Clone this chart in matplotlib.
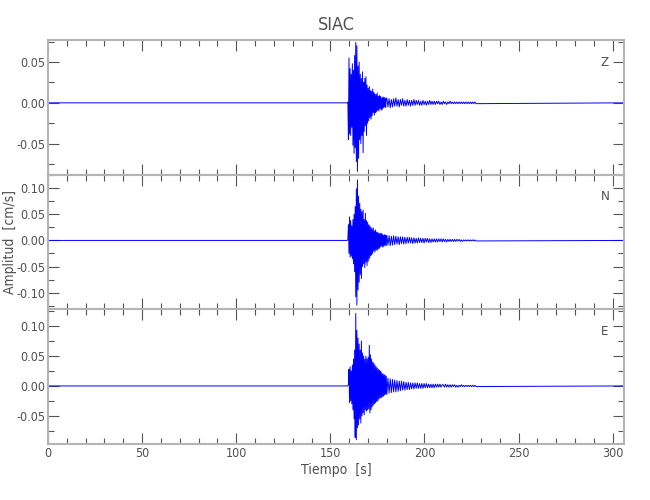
import numpy as np
import matplotlib
matplotlib.use("Agg")
from matplotlib import pyplot as plt
from matplotlib import font_manager
from matplotlib.ticker import MultipleLocator

# narrow font if one is there, else condensed DejaVu
names = {f.name for f in font_manager.fontManager.ttflist}
narrow = [n for n in ['Liberation Sans Narrow', 'DejaVu Sans Condensed']
          if n in names]
plt.rcParams['font.family'] = narrow + ['DejaVu Sans']
plt.rcParams['font.stretch'] = 'condensed'

# station / components
station = 'SIAC'
components = ['Z', 'N', 'E']

# sampling of the event window: blocks of samples (s)
seg_starts = [159.0, 180.0, 210.0]
seg_steps = [0.3, 0.6, 0.6]
seg_sizes = [70, 50, 30]
t_first, t_last = 0.0, 306.0

# amplitudes in 1e-3 cm/s
z_vals = [0, 1, -45, 55, -38, 42, -40, 35, -30, 48,
          -52, 40, -62, 58, -55, 74, -72, 70, -84, 45,
          -68, 50, -45, 35, -50, 30, -40, 38, -61, 25,
          -35, 30, -28, 32, -40, 22, -25, 18, -22, 20,
          -18, 15, -20, 14, -16, 17, -12, 13, -15, 11,
          -12, 10, -11, 12, -9, 8, -10, 9, -7, 8,
          -9, 6, -8, 7, -6, 7, -5, 6, -6, 5,
          6, -5, 5, -6, 4, -5, 5, -4, 6, -4,
          4, -5, 4, -3, 5, -4, 3, -4, 4, -3,
          3, -4, 3, -3, 4, -3, 3, -2, 3, -3,
          2, -3, 3, -2, 2, -3, 2, -2, 3, -2,
          2, -2, 2, -2, 2, -1, 2, -2, 1, -2,
          2, -1, 1, -2, 1, -1, 2, -1, 1, -1,
          1, -1, 1, -1, 1, -1, 1, -1, 1, -1,
          1, -1, 1, -1, 1, -1, 1, -1, 1, -1]

n_vals = [0, 2, 30, -25, 45, -32, 38, -30, 28, -35,
          40, -45, 50, -60, 65, -108, 99, -124, 116, -95,
          85, -80, 71, -65, 60, -73, 55, -50, 58, -45,
          40, -52, 52, -42, 38, -48, 35, -40, 30, -35,
          28, -30, 25, -28, 22, -25, 24, -20, 18, -22,
          20, -18, 16, -19, 15, -16, 14, -15, 13, -12,
          14, -11, 12, -13, 10, -11, 11, -9, 10, -10,
          10, -9, 9, -10, 8, -9, 9, -8, 8, -7,
          7, -8, 7, -6, 7, -7, 6, -6, 6, -5,
          6, -5, 5, -6, 5, -5, 4, -5, 5, -4,
          4, -4, 4, -5, 4, -3, 4, -4, 3, -4,
          3, -3, 3, -3, 3, -3, 3, -2, 3, -3,
          3, -2, 2, -3, 2, -2, 2, -2, 2, -2,
          2, -2, 2, -1, 2, -2, 1, -2, 1, -1,
          1, -1, 1, -1, 1, -1, 1, -1, 1, -1]

e_vals = [0, 1, 2, 28, -28, 32, -25, 25, -30, 35,
          -40, 45, -55, 60, -86, 121, -90, 93, -70, 80,
          -65, 70, -55, 60, -62, 75, -50, 55, -45, 50,
          -48, 45, -40, 50, -42, 45, -40, 48, -38, 68,
          -45, 52, -40, 45, -35, 40, -32, 38, -30, 35,
          -28, 32, -26, 30, -25, 28, -22, 26, -20, 25,
          -20, 22, -18, 20, -17, 19, -15, 18, -14, 16,
          -14, 13, -12, 12, -11, 11, -10, 10, -10, 9,
          -9, 8, -8, 8, -7, 7, -7, 6, -6, 6,
          -6, 5, -5, 5, -5, 5, -4, 5, -4, 4,
          -4, 4, -4, 4, -3, 4, -3, 3, -3, 3,
          -3, 3, -3, 3, -2, 3, -2, 3, -2, 2,
          2, -2, 3, -2, 2, -2, 2, -2, 2, -1,
          2, -2, 1, -2, 1, -1, 2, -1, 1, -1,
          1, -1, 1, -1, 1, -1, 1, -1, 1, -1]

ylims = [(-0.088, 0.077), (-0.132, 0.126), (-0.097, 0.128)]
yticks = [[-0.05, 0.0, 0.05],
          [-0.10, -0.05, 0.0, 0.05, 0.10],
          [-0.05, 0.0, 0.05, 0.10]]

# time axis of the event window
t_event = np.concatenate([s + d * np.arange(n)
                          for s, d, n in zip(seg_starts, seg_steps, seg_sizes)])

spine_col = '#b4b4b4'
tick_col = '#555555'
text_col = '#505050'

fig, axes = plt.subplots(3, 1, figsize=(6.5, 5), dpi=100, sharex=True)
fig.subplots_adjust(left=48/650, right=624/650, top=1-40/500,
                    bottom=1-444/500, hspace=0)

for ax, comp, vals, yl, yt in zip(axes, components,
                                  [z_vals, n_vals, e_vals], ylims, yticks):
    t = np.concatenate([[t_first], t_event, [t_last]])
    y = np.concatenate([[0.0], np.array(vals) / 1000.0, [0.0]])
    ax.plot(t, y, color='#0000ff', lw=0.7)
    ax.set_xlim(t_first, t_last)
    ax.set_ylim(*yl)
    ax.set_yticks(yt)
    ax.yaxis.set_minor_locator(MultipleLocator(0.025))
    ax.xaxis.set_major_locator(MultipleLocator(50))
    ax.xaxis.set_minor_locator(MultipleLocator(10))
    ax.yaxis.set_major_formatter(plt.FormatStrFormatter('%.2f'))
    ax.tick_params(which='both', direction='in', top=True, right=True,
                   color=tick_col, labelcolor=text_col, labelsize=9, pad=2)
    ax.tick_params(which='major', length=8, width=0.8)
    ax.tick_params(which='minor', length=4.5, width=0.8)
    for sp in ax.spines.values():
        sp.set_color(spine_col)
        sp.set_linewidth(1.5)
    ax.text(0.967, 0.836, comp, transform=ax.transAxes, ha='center',
            va='center', fontsize=9.5, color=text_col)

axes[0].set_title(station, fontsize=13, color=text_col, pad=7)
axes[2].set_xlabel('Tiempo  [s]', fontsize=10, color=text_col, labelpad=2)
fig.text(10/650, 1-242/500, 'Amplitud  [cm/s]', rotation=90, ha='center',
         va='center', fontsize=10, color=text_col)

plt.savefig('out.png')
